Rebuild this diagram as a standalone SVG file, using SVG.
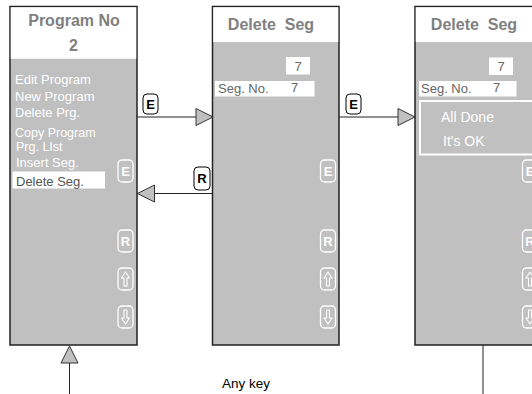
<svg xmlns="http://www.w3.org/2000/svg" width="532" height="394" viewBox="0 0 532 394">
<style>
text{font-family:"Liberation Sans",Arial,sans-serif;}
.panel{fill:#c0c0c0;stroke:#222;stroke-width:1.5;}
.head{fill:#fff;}
.title{font-size:16px;font-weight:bold;fill:#808080;}
.menu{font-size:13px;fill:#fff;}
.dark{font-size:13px;fill:#555;}
.val{font-size:13px;fill:#666;}
.wbox{fill:#fff;}
.btn{fill:none;stroke:#fff;stroke-width:1.3;}
.btxt{font-size:13px;font-weight:bold;fill:#fff;text-anchor:middle;}
.ico{fill:none;stroke:#fff;stroke-width:1.1;stroke-linejoin:round;}
.lbl{fill:#fff;stroke:#000;stroke-width:1;}
.ltxt{font-size:13px;font-weight:bold;fill:#000;text-anchor:middle;}
.conn{stroke:#222;stroke-width:1;fill:none;}
</style>
<defs>
<marker id="tri" markerUnits="userSpaceOnUse" markerWidth="19" markerHeight="19" refX="17" refY="8.5" orient="auto" viewBox="-1 -1 19 19">
<path d="M0,0 L17,8.5 L0,17 Z" fill="#c0c0c0" stroke="#333" stroke-width="1"/>
</marker>
<g id="btnset">
<rect class="btn" x="0" y="0" width="15" height="22" rx="4"/>
<text class="btxt" x="7.5" y="16">E</text>
<rect class="btn" x="0" y="70" width="15" height="22" rx="4"/>
<text class="btxt" x="7.5" y="86">R</text>
<rect class="btn" x="0" y="108" width="15" height="22" rx="4"/>
<path class="ico" d="M7.5,112 L11.5,118 L9,118 L9,126 L6,126 L6,118 L3.5,118 Z"/>
<rect class="btn" x="0" y="146" width="15" height="22" rx="4"/>
<path class="ico" d="M7.5,164 L11.5,158 L9,158 L9,150 L6,150 L6,158 L3.5,158 Z"/>
</g>
</defs>
<rect width="532" height="394" fill="#fff"/>

<g id="connectors">
<line class="conn" x1="137" y1="117" x2="213" y2="117" marker-end="url(#tri)"/>
<rect class="lbl" x="143" y="94" width="15" height="20" rx="4"/>
<text class="ltxt" x="150.5" y="109">E</text>
<line class="conn" x1="213" y1="193.5" x2="137.5" y2="193.5" marker-end="url(#tri)"/>
<rect class="lbl" x="194" y="167" width="16" height="23" rx="4"/>
<text class="ltxt" x="202" y="183">R</text>
<line class="conn" x1="339" y1="117" x2="415" y2="117" marker-end="url(#tri)"/>
<rect class="lbl" x="346" y="94" width="15" height="20" rx="4"/>
<text class="ltxt" x="353.5" y="109">E</text>
<line class="conn" x1="69.5" y1="394" x2="69.5" y2="346" marker-end="url(#tri)"/>
<line class="conn" x1="483" y1="345" x2="483" y2="394" stroke="#444"/>
<text x="222" y="388" style="font-size:13.5px;fill:#000;">Any key</text>
</g>

<g id="panel1">
<rect class="panel" x="10" y="6.5" width="127" height="338.5"/>
<rect class="head" x="10.75" y="7.25" width="125.5" height="51.5"/>
<text class="title" x="74" y="26" text-anchor="middle">Program No</text>
<text class="title" x="73.5" y="51" text-anchor="middle">2</text>
<text class="menu" x="15" y="84">Edit Program</text>
<text class="menu" x="15" y="101">New Program</text>
<text class="menu" x="15" y="117">Delete Prg.</text>
<text class="menu" x="15" y="137" style="font-size:12.5px;">Copy Program</text>
<text class="menu" x="16" y="150.5" style="font-size:12.5px;">Prg. LIst</text>
<text class="menu" x="16" y="167">Insert Seg.</text>
<rect class="wbox" x="12.5" y="171.5" width="92.5" height="17"/>
<text class="dark" x="16" y="185.5">Delete Seg.</text>
<use href="#btnset" x="118" y="160"/>
</g>

<g id="panel2">
<rect class="panel" x="212.5" y="6.5" width="126.5" height="338.5"/>
<rect class="head" x="213.25" y="7.25" width="125" height="34.75"/>
<text class="title" x="271" y="30" text-anchor="middle" xml:space="preserve">Delete  Seg</text>
<rect class="wbox" x="286" y="57" width="24" height="17.5"/>
<text class="val" x="298" y="71" text-anchor="middle">7</text>
<rect class="wbox" x="215" y="81" width="99.5" height="15.5"/>
<text class="val" x="218" y="93">Seg. No.</text>
<text class="val" x="291" y="92">7</text>
<use href="#btnset" x="320.5" y="160"/>
</g>

<g id="panel3">
<rect class="panel" x="415" y="6.5" width="130" height="338.5"/>
<rect class="head" x="415.75" y="7.25" width="130" height="34.75"/>
<text class="title" x="474" y="30" text-anchor="middle" xml:space="preserve">Delete  Seg</text>
<rect class="wbox" x="489" y="57.5" width="24" height="17.5"/>
<text class="val" x="501" y="71" text-anchor="middle">7</text>
<rect class="wbox" x="419" y="81" width="97.5" height="15.5"/>
<text class="val" x="421" y="93">Seg. No.</text>
<text class="val" x="493" y="92">7</text>
<rect x="420" y="101" width="130" height="53.5" fill="#c0c0c0" stroke="#fff" stroke-width="2"/>
<text class="menu" x="441" y="122" style="font-size:14px;">All Done</text>
<text class="menu" x="443" y="146" style="font-size:14px;">It's OK</text>
<use href="#btnset" x="522.5" y="160"/>
</g>
</svg>
